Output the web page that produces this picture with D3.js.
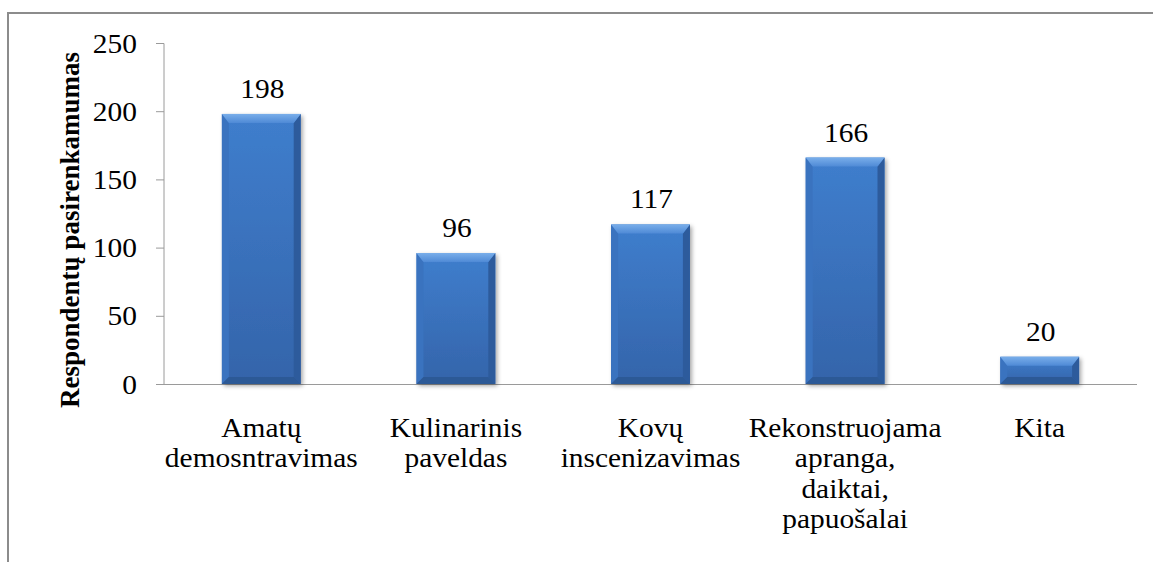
<!DOCTYPE html>
<html>
<head>
<meta charset="utf-8">
<script src="https://cdn.jsdelivr.net/npm/d3@7"></script>
<style>
  html, body { margin: 0; padding: 0; background: #fff; }
  svg { display: block; }
</style>
</head>
<body>
<svg id="chart" width="1153" height="562"></svg>
<script>
const categories = [
  ["Amatų", "demosntravimas"],
  ["Kulinarinis", "paveldas"],
  ["Kovų", "inscenizavimas"],
  ["Rekonstruojama", "apranga,", "daiktai,", "papuošalai"],
  ["Kita"]
];
const values = [198, 96, 117, 166, 20];
const yTicks = [0, 50, 100, 150, 200, 250];
const yTitle = "Respondentų pasirenkamumas";

const FONT = "'Liberation Serif', 'Times New Roman', Tinos, 'DejaVu Serif', serif";
const W = 1153, H = 562;
const plot = { left: 164, right: 1137, top: 43, bottom: 384 };
const svg = d3.select("#chart");
const sx = 1.09; // horizontal stretch of the text

const defs = svg.append("defs");
const g1 = defs.append("linearGradient").attr("id", "body").attr("x1", 0).attr("y1", 0).attr("x2", 0).attr("y2", 1);
g1.append("stop").attr("offset", "0%").attr("stop-color", "#3f7ecd");
g1.append("stop").attr("offset", "100%").attr("stop-color", "#3464aa");
const g2 = defs.append("linearGradient").attr("id", "topbev").attr("x1", 0).attr("y1", 0).attr("x2", 0).attr("y2", 1);
g2.append("stop").attr("offset", "0%").attr("stop-color", "#79aeea");
g2.append("stop").attr("offset", "100%").attr("stop-color", "#4f8ad6");
const sh = defs.append("filter").attr("id", "shadow").attr("x", "-20%").attr("y", "-20%").attr("width", "140%").attr("height", "140%");
sh.append("feDropShadow").attr("dx", 2).attr("dy", 2).attr("stdDeviation", 2).attr("flood-color", "#000").attr("flood-opacity", 0.35);

// frame
svg.append("line").attr("x1", 8).attr("x2", 8).attr("y1", 13).attr("y2", H).attr("stroke", "#8c8c8c").attr("stroke-width", 2);
svg.append("line").attr("x1", 7).attr("x2", W).attr("y1", 13).attr("y2", 13).attr("stroke", "#8c8c8c").attr("stroke-width", 2);

const x = d3.scaleBand().domain(d3.range(categories.length)).range([plot.left, plot.right]).padding(0);
const y = d3.scaleLinear().domain([0, 250]).range([plot.bottom, plot.top]);

// y axis
const yAxis = svg.append("g").attr("transform", `translate(${plot.left},0)`)
  .call(d3.axisLeft(y).tickValues(yTicks).tickSize(8).tickPadding(0).tickFormat(d3.format("d")));
yAxis.attr("font-family", null).attr("font-size", null);
yAxis.select(".domain").attr("stroke", "#9a9a9a").attr("d", `M-8,${plot.top + 0.5}H0V${plot.bottom}`);
yAxis.selectAll(".tick line").attr("stroke", "#9a9a9a");
yAxis.selectAll(".tick text").remove();
yAxis.selectAll(".tick").append("g")
  .attr("transform", `translate(-27,0) scale(${sx},1)`)
  .append("text")
  .attr("text-anchor", "end").attr("dy", "0.34em")
  .style("font-family", FONT).style("font-size", "27px").style("fill", "#000")
  .text(d => d);

// x axis line
svg.append("line").attr("x1", plot.left).attr("x2", plot.right).attr("y1", plot.bottom + 0.5).attr("y2", plot.bottom + 0.5)
  .attr("stroke", "#9a9a9a").attr("stroke-width", 1);

// bars
const bw = x.bandwidth() * 0.405;
const bev = 7, bevTop = 9;
const bars = svg.append("g").selectAll("g.bar").data(values).join("g").attr("class", "bar")
  .attr("transform", (d, i) => `translate(${x(i) + x.bandwidth() / 2 - bw / 2},${y(d)})`);
bars.each(function(d) {
  const g = d3.select(this);
  const h = y(0) - y(d);
  const bt = Math.min(bevTop, h / 2), bs = Math.min(bev, h / 2);
  g.append("rect").attr("width", bw).attr("height", h).attr("fill", "url(#body)").attr("filter", "url(#shadow)");
  g.append("path").attr("d", `M0,0L${bs},${bt}L${bs},${h - bs}L0,${h}Z`).attr("fill", "#3a73bf");
  g.append("path").attr("d", `M${bw},0L${bw - bs},${bt}L${bw - bs},${h - bs}L${bw},${h}Z`).attr("fill", "#2d5b9c");
  g.append("path").attr("d", `M0,${h}L${bs},${h - bs}L${bw - bs},${h - bs}L${bw},${h}Z`).attr("fill", "#2c5996");
  g.append("path").attr("d", `M0,0L${bw},0L${bw - bs},${bt}L${bs},${bt}Z`).attr("fill", "url(#topbev)");
});

// value labels
svg.append("g").selectAll("g").data(values).join("g")
  .attr("transform", (d, i) => `translate(${x(i) + x.bandwidth() / 2 + 1},${y(d) - 16}) scale(${sx},1)`)
  .append("text").attr("text-anchor", "middle")
  .style("font-family", FONT).style("font-size", "27px").style("fill", "#000")
  .text(d => d);

// category labels
const lineH = 30.5;
const cat = svg.append("g").selectAll("g").data(categories).join("g")
  .attr("transform", (d, i) => `translate(${x(i) + x.bandwidth() / 2},437) scale(${sx},1)`);
cat.each(function(lines) {
  const t = d3.select(this).append("text").attr("text-anchor", "middle")
    .style("font-family", FONT).style("font-size", "27px").style("fill", "#000");
  lines.forEach((l, k) => t.append("tspan").attr("x", 0).attr("y", k * lineH).text(l));
});

// y title
svg.append("text")
  .attr("transform", `translate(79,230) rotate(-90)`)
  .attr("text-anchor", "middle")
  .style("font-family", FONT).style("font-size", "27px").style("font-weight", "bold").style("fill", "#000")
  .text(yTitle);
</script>
</body>
</html>
